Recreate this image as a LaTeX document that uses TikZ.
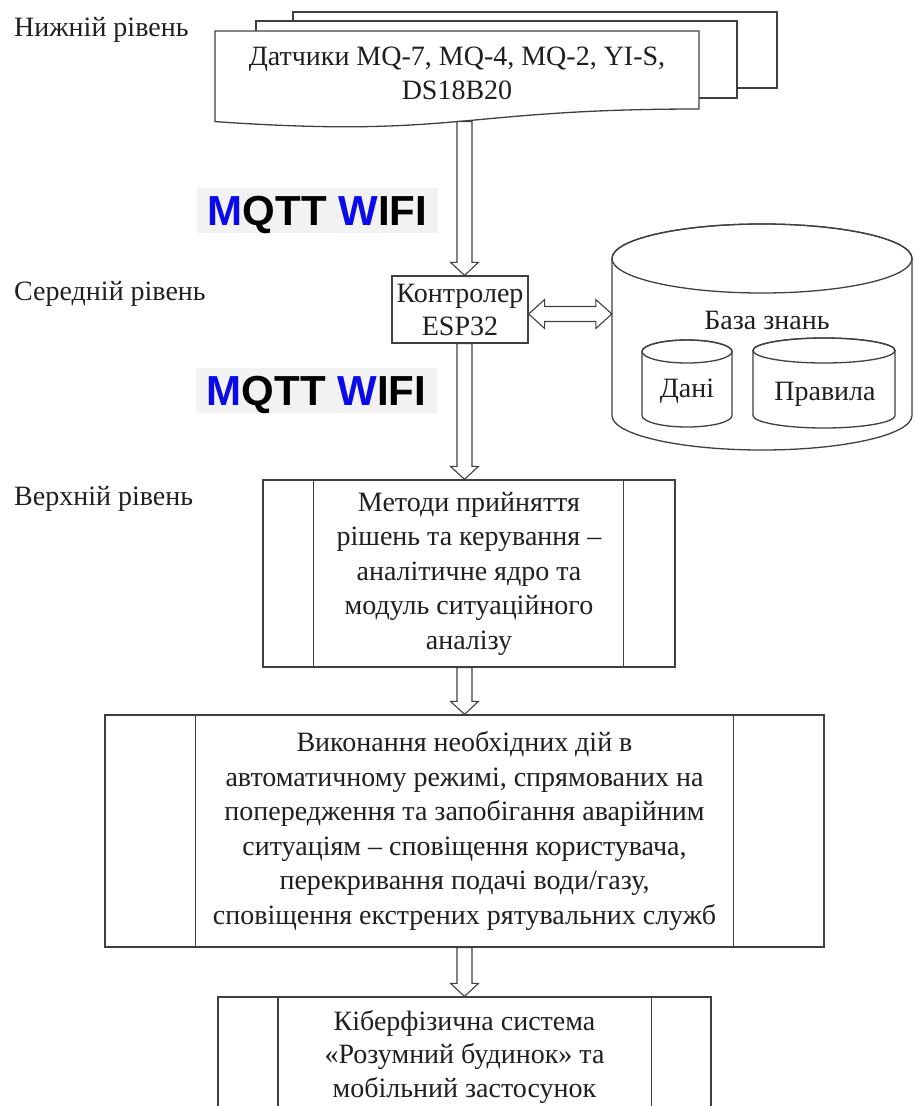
\documentclass[tikz,border=0pt]{standalone}
\usepackage{fontspec}
\setmainfont{Liberation Serif}
\newfontfamily\mqttfont{Liberation Sans}
\usetikzlibrary{calc}
\definecolor{lncol}{gray}{0.25}
\definecolor{txtcol}{gray}{0.12}
\definecolor{mqblue}{RGB}{10,10,235}
\tikzset{
  ln/.style={draw=lncol, line width=1.3pt},
  box/.style={ln, fill=white, inner sep=0pt, align=center, font=\fontsize{28}{34.5}\selectfont, text=txtcol},
  blockarrow/.style={ln, fill=white, line width=1.1pt, line join=miter},
  lvl/.style={anchor=base west, font=\fontsize{28}{34}\selectfont, text=txtcol, inner sep=0pt},
  mqtt/.style={fill=black!5, minimum width=241pt, minimum height=45pt, inner sep=0pt, text height=30pt, text depth=0pt, font=\mqttfont\bfseries\fontsize{42}{42}\selectfont},
  btext/.style={align=center, font=\fontsize{28}{34}\selectfont, text=txtcol, inner sep=0pt},
}
\newcommand{\mycyl}[5]{%
  \pgfmathsetmacro\cyx{(#1+#2)/2}%
  \pgfmathsetmacro\cyr{(#2-#1)/2}%
  \pgfmathsetmacro\cyt{#3+#5}%
  \pgfmathsetmacro\cyb{#4-#5}%
  \pgfmathsetmacro\cykx{0.5523*\cyr}%
  \pgfmathsetmacro\cyky{0.5523*#5}%
  \draw[ln, fill=white] (#1,\cyt) -- (#1,\cyb) .. controls (#1,\cyb+\cyky) and (\cyx-\cykx,#4) .. (\cyx,#4) .. controls (\cyx+\cykx,#4) and (#2,\cyb+\cyky) .. (#2,\cyb) -- (#2,\cyt) .. controls (#2,\cyt-\cyky) and (\cyx+\cykx,#3) .. (\cyx,#3) .. controls (\cyx-\cykx,#3) and (#1,\cyt-\cyky) .. (#1,\cyt) -- cycle;
  \draw[ln] (\cyx,\cyt) ellipse [x radius=\cyr, y radius=#5];
}
\newcommand{\vblock}[2]{%
  \draw[blockarrow] let \p1=(#1), \p2=(#2) in
    (\x2-7.5pt,\y1) -- (\x2-7.5pt,\y2+13pt) -- (\x2-14pt,\y2+13pt) -- (\x2,\y2)
    -- (\x2+14pt,\y2+13pt) -- (\x2+7.5pt,\y2+13pt) -- (\x2+7.5pt,\y1) -- cycle;
}
\begin{document}
\begin{tikzpicture}[x=1pt,y=-1pt]
\useasboundingbox (0,0) rectangle (915,1106);
\clip (0,0) rectangle (915,1106);

% level labels
\node[lvl] (l1) at (14,36) {Нижній рівень};
\node[lvl] (l2) at (14,300) {Середній рівень};
\node[lvl] (l3) at (14,505) {Верхній рівень};

% multi-document
\draw[ln, fill=white] (293,12) rectangle (777,88);
\draw[ln, fill=white] (256,21) rectangle (737,98);
\draw[ln, fill=white] (215,31) -- (699,31) -- (699,109) .. controls (457,109) and (457,138.4) .. (215,121.6) -- cycle;
\coordinate (docb) at (464.5,121.5);
\node[btext] (sensors) at (457,73) {Датчики MQ-7, MQ-4, MQ-2, YI-S,\\DS18B20};

% MQTT labels
\node[mqtt] (mq1) at (317.5,210.5) {\textcolor{mqblue}{M}QTT \textcolor{mqblue}{W}IFI};
\node[mqtt] (mq2) at (316.5,390) {\textcolor{mqblue}{M}QTT \textcolor{mqblue}{W}IFI};

% controller
\node[box, font=\fontsize{28}{33}\selectfont, minimum width=136pt, minimum height=67pt] (ctrl) at (460,309.5) {Контролер\\ESP32};

% knowledge base
\node[inner sep=0pt, minimum width=300pt, minimum height=226pt] (kb) at (762,337) {};
\mycyl{612}{912}{224}{450}{34.5}
\node[btext] (kbt) at (767,320) {База знань};
\mycyl{642}{732}{340}{427}{11.5}
\node[btext] (data) at (687,391) {Дані};
\mycyl{753}{895}{338}{428}{12.5}
\node[btext] (rules) at (825,394) {Правила};

% decision box
\node[box, minimum width=412pt, minimum height=187pt] (dec) at (469,573.5)
  {Методи прийняття\\рішень та керування –\\аналітичне ядро та\\модуль ситуаційного\\аналізу};
\draw[ln] ([xshift=51pt]dec.north west) -- ([xshift=51pt]dec.south west);
\draw[ln] ([xshift=-52pt]dec.north east) -- ([xshift=-52pt]dec.south east);

% action box
\node[box, minimum width=719pt, minimum height=232pt] (act) at (464.5,831)
  {Виконання необхідних дій в\\автоматичному режимі, спрямованих на\\попередження та запобігання аварійним\\ситуаціям – сповіщення користувача,\\перекривання подачі води/газу,\\сповіщення екстрених рятувальних служб};
\draw[ln] ([xshift=91pt]act.north west) -- ([xshift=91pt]act.south west);
\draw[ln] ([xshift=-91pt]act.north east) -- ([xshift=-91pt]act.south east);

% cyber-physical system box
\node[box, font=\fontsize{28}{33.5}\selectfont, minimum width=493pt, minimum height=119pt] (cps) at (464.5,1056.5)
  {Кіберфізична система\\«Розумний будинок» та\\мобільний застосунок};
\draw[ln] ([xshift=60.5pt]cps.north west) -- ([xshift=60.5pt]cps.south west);
\draw[ln] ([xshift=-60.5pt]cps.north east) -- ([xshift=-60.5pt]cps.south east);

% block arrows
\vblock{docb}{ctrl.north -| docb}
\vblock{ctrl.south -| docb}{dec.north -| docb}
\vblock{dec.south -| docb}{act.north -| docb}
\vblock{act.south -| docb}{cps.north -| docb}

\draw[blockarrow] let \p1=($(ctrl.east)+(0,4.5)$), \p2=(kb.west) in
  (\x1,\y1) -- (\x1+16pt,\y1+14.5pt) -- (\x1+16pt,\y1+7.5pt) -- (\x2-16pt,\y1+7.5pt)
  -- (\x2-16pt,\y1+14.5pt) -- (\x2,\y1) -- (\x2-16pt,\y1-14.5pt) -- (\x2-16pt,\y1-7.5pt)
  -- (\x1+16pt,\y1-7.5pt) -- (\x1+16pt,\y1-14.5pt) -- cycle;
\end{tikzpicture}
\end{document}
